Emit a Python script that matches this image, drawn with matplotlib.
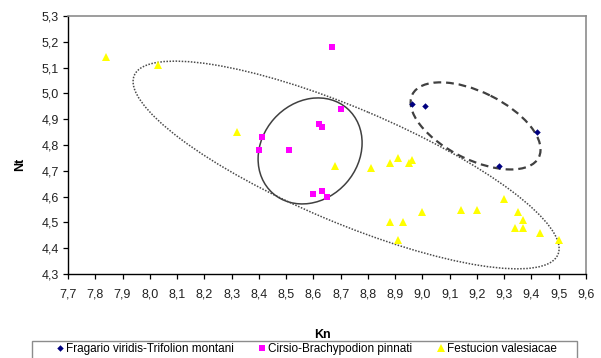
import numpy as np
import matplotlib
matplotlib.use("Agg")
import matplotlib.pyplot as plt
from matplotlib.patches import Circle, Rectangle
from matplotlib.lines import Line2D
from matplotlib.transforms import Affine2D

plt.rcParams['font.family'] = ['Liberation Sans', 'DejaVu Sans']

# Kn / Nt values per syntaxon
fragario_kn = [8.96, 9.01, 9.42, 9.28]
fragario_nt = [4.96, 4.95, 4.85, 4.72]

cirsio_kn = [8.67, 8.70, 8.62, 8.63, 8.41, 8.40, 8.51, 8.60, 8.63, 8.65]
cirsio_nt = [5.18, 4.94, 4.88, 4.87, 4.83, 4.78, 4.78, 4.61, 4.62, 4.60]

festucion_kn = [7.84, 8.03, 8.32, 8.68, 8.81, 8.88, 8.91, 8.95, 8.96, 9.30, 9.00,
                9.14, 9.20, 8.88, 8.93, 8.91, 9.35, 9.37, 9.34, 9.37, 9.43, 9.50]
festucion_nt = [5.14, 5.11, 4.85, 4.72, 4.71, 4.73, 4.75, 4.73, 4.74, 4.59, 4.54,
                4.55, 4.55, 4.50, 4.50, 4.43, 4.54, 4.51, 4.48, 4.48, 4.46, 4.43]

series_names = ["Fragario viridis-Trifolion montani",
                "Cirsio-Brachypodion pinnati",
                "Festucion valesiacae"]

# Group envelopes: centre and two conjugate semi-axis vectors (data units)
env_fragario = dict(center=(9.195, 4.874), u=(0.2319, -0.1217), v=(-0.0550, -0.1170))
env_cirsio = dict(center=(8.588, 4.777), u=(0.1368, 0.1640), v=(0.1329, -0.1237))
env_festucion = dict(center=(8.720, 4.7225), u=(0.777, -0.347), v=(-0.0820, -0.2040))

x_ticks = [7.7, 7.8, 7.9, 8.0, 8.1, 8.2, 8.3, 8.4, 8.5, 8.6, 8.7, 8.8, 8.9, 9.0,
           9.1, 9.2, 9.3, 9.4, 9.5, 9.6]
y_ticks = [4.3, 4.4, 4.5, 4.6, 4.7, 4.8, 4.9, 5.0, 5.1, 5.2, 5.3]
x_labels = [f"{v:.1f}".replace(".", ",") for v in x_ticks]
y_labels = [f"{v:.1f}".replace(".", ",") for v in y_ticks]

W, H = 601, 358
fig = plt.figure(figsize=(W / 100, H / 100), dpi=100)
ax = fig.add_axes([68 / W, 1 - 274 / H, (586 - 68) / W, (274 - 16) / H])

navy = "#000080"
magenta = "#FF00FF"
yellow = "#FFFF00"
styles = [
    dict(marker="D", markersize=3.3, color=navy),
    dict(marker="s", markersize=5.0, color=magenta),
    dict(marker="^", markersize=5.2, color=yellow),
]

ax.plot(festucion_kn, festucion_nt, linestyle="none", markeredgewidth=0, zorder=4, **styles[2])
ax.plot(cirsio_kn, cirsio_nt, linestyle="none", markeredgewidth=0, zorder=4, **styles[1])
ax.plot(fragario_kn, fragario_nt, linestyle="none", markeredgewidth=0, zorder=5, **styles[0])


def envelope(env, **kw):
    cx, cy = env["center"]
    ux, uy = env["u"]
    vx, vy = env["v"]
    m = np.array([[ux, vx, cx], [uy, vy, cy], [0, 0, 1]])
    patch = Circle((0, 0), 1, fill=False,
                   transform=Affine2D(m) + ax.transData, **kw)
    ax.add_patch(patch)


envelope(env_festucion, edgecolor="#4a4a4a", linewidth=1.1, linestyle=(0, (1, 1)), zorder=3)
envelope(env_cirsio, edgecolor="#404040", linewidth=1.1, linestyle="-", zorder=3)
envelope(env_fragario, edgecolor="#404040", linewidth=1.6, linestyle=(0, (3.5, 2.2)), zorder=3)

ax.set_xlim(7.7, 9.6)
ax.set_ylim(4.3, 5.3)
ax.set_xticks(x_ticks)
ax.set_xticklabels(x_labels)
ax.set_yticks(y_ticks)
ax.set_yticklabels(y_labels)
ax.tick_params(axis="both", direction="out", length=3.5, width=0.9,
               labelsize=9, colors="black", labelcolor="#222222")
ax.tick_params(axis="x", pad=7)
ax.tick_params(axis="y", pad=3)

for side in ("top", "right"):
    ax.spines[side].set_color("#8c8c8c")
    ax.spines[side].set_linewidth(1.2)
for side in ("left", "bottom"):
    ax.spines[side].set_color("black")
    ax.spines[side].set_linewidth(1.0)

fig.text(20 / W, 1 - 164 / H, "Nt", rotation=90, fontsize=9, fontweight="bold",
         ha="center", va="center")
fig.text(322 / W, 1 - 335 / H, "Kn", fontsize=9, fontweight="bold",
         ha="center", va="center", zorder=1)

# Legend: frame running off the lower edge, one marker + label per series
frame = Rectangle((32 / W, -0.05), (577 - 32) / W, (1 - 341 / H) + 0.05,
                  transform=fig.transFigure, facecolor="white",
                  edgecolor="#8c8c8c", linewidth=1.0, zorder=4)
fig.patches.append(frame)

legend_y = 1 - 347.5 / H
marker_x = [60 / W, 262 / W, 441 / W]
for name, style, mx in zip(series_names, styles, marker_x):
    fig.add_artist(Line2D([mx], [legend_y], linestyle="none", markeredgewidth=0,
                          transform=fig.transFigure, zorder=6, **style))
    fig.text(mx + 6 / W, legend_y, name, fontsize=8.5, ha="left",
             va="center_baseline", zorder=6)

fig.savefig("out.png", dpi=100)
